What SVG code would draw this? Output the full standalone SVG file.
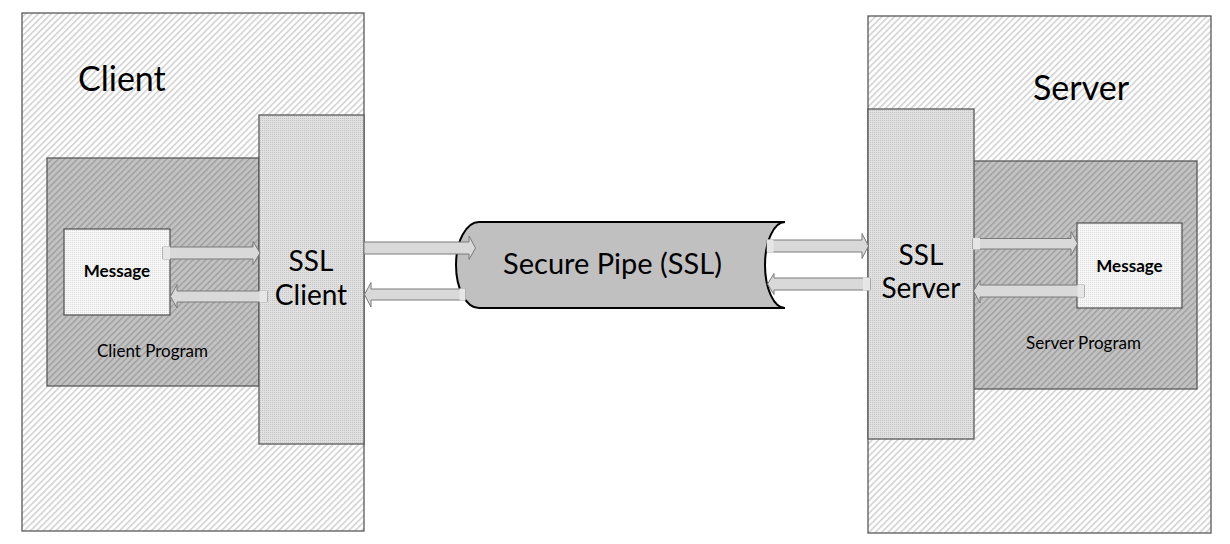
<svg xmlns="http://www.w3.org/2000/svg" width="1230" height="544" viewBox="0 0 1230 544">
<style>
text{font-family:Lato,"Liberation Sans",Arial,sans-serif;fill:#000}
.box{stroke:#595959;stroke-width:1.3}
.outer{fill:url(#hatchLight)}
.prog{fill:url(#hatchDark)}
.ssl{fill:url(#dotsMid)}
.msg{fill:url(#dotsLight)}
.arr{fill:#d9d9d9;stroke:#7a7a7a;stroke-width:1}
.stub{fill:#e6e6e6;stroke:none}
.title{font-size:34px}
.mid{font-size:28px;text-anchor:middle}
.small{font-size:17px;text-anchor:middle}
.bold{font-size:17px;font-weight:bold;text-anchor:middle}
</style>
<defs>
<pattern id="hatchLight" patternUnits="userSpaceOnUse" width="4.5" height="4.5" patternTransform="rotate(45)">
<rect width="4.5" height="4.5" fill="#ffffff"/>
<rect width="1.6" height="4.5" fill="#d2d2d2"/>
</pattern>
<pattern id="hatchDark" patternUnits="userSpaceOnUse" width="4.5" height="4.5" patternTransform="rotate(45)">
<rect width="4.5" height="4.5" fill="#c2c2c2"/>
<rect width="1.4" height="4.5" fill="#9e9e9e"/>
</pattern>
<pattern id="dotsMid" patternUnits="userSpaceOnUse" width="2" height="2">
<rect width="2" height="2" fill="#e0e0e0"/>
<rect width="1" height="1" fill="#c6c6c6"/>
</pattern>
<pattern id="dotsLight" patternUnits="userSpaceOnUse" width="2" height="2">
<rect width="2" height="2" fill="#f6f6f6"/>
<rect width="1" height="1" fill="#dedede"/>
</pattern>
</defs>
<rect width="1230" height="544" fill="#ffffff"/>

<g id="client">
<rect class="box outer" x="22" y="13" width="342" height="518"/>
<text class="title" x="78" y="91">Client</text>
</g>
<g id="client-program">
<rect class="box prog" x="47" y="158" width="212" height="228"/>
<text class="small" x="152.5" y="357">Client Program</text>
</g>
<g id="client-message">
<rect class="box msg" x="64" y="229" width="106" height="86"/>
<text class="bold" x="117" y="277">Message</text>
</g>
<g id="ssl-client">
<rect class="box ssl" x="259" y="115" width="105" height="329"/>
<text class="mid" x="311" y="271">SSL</text>
<text class="mid" x="311" y="305">Client</text>
</g>

<g id="server">
<rect class="box outer" x="868" y="16" width="343" height="517"/>
<text class="title" x="1033" y="100">Server</text>
</g>
<g id="server-program">
<rect class="box prog" x="960" y="161" width="237" height="228"/>
<text class="small" x="1083.5" y="349">Server Program</text>
</g>
<g id="ssl-server">
<rect class="box ssl" x="868" y="109" width="106" height="330"/>
<text class="mid" x="921" y="265">SSL</text>
<text class="mid" x="921" y="298">Server</text>
</g>
<g id="server-message">
<rect class="box msg" x="1077" y="223" width="105" height="85"/>
<text class="bold" x="1129.5" y="272">Message</text>
</g>

<g id="secure-pipe">
<path d="M479,222 L785,222 A20,43 0 0 0 785,308 L479,308 A23,43 0 0 1 479,222 Z" fill="#c0c0c0" stroke="#000" stroke-width="2"/>
<text x="612.5" y="274" font-size="29" text-anchor="middle">Secure Pipe (SSL)</text>
</g>

<g id="connectors">
<polygon class="arr" points="163,247 253,247 253,241.5 260,253 253,264.5 253,259 163,259"/>
<rect class="stub" x="163" y="246.5" width="7" height="13"/>
<polygon class="arr" points="267,291 177,291 177,284.5 170.5,296.5 177,308 177,302 267,302"/>
<rect class="stub" x="259.5" y="290.5" width="7.5" height="12"/>
<polygon class="arr" points="364,242 469,242 469,236 475.5,248 469,259.5 469,254 364,254"/>
<polygon class="arr" points="465.5,289 371,289 371,282.5 364.5,294.5 371,307 371,300 465.5,300"/>
<rect class="stub" x="459.5" y="288.5" width="6" height="12"/>
<polygon class="arr" points="767,240 862,240 862,233.5 868.5,246 862,258.5 862,252 767,252"/>
<rect class="stub" x="767" y="239.5" width="6.5" height="13"/>
<polygon class="arr" points="870,278 774,278 774,273.5 767.5,284 774,294.5 774,290 870,290"/>
<rect class="stub" x="863" y="277.5" width="7" height="13"/>
<polygon class="arr" points="973,238.5 1071,238.5 1071,231.5 1077.5,243.5 1071,255.5 1071,249 973,249"/>
<rect class="stub" x="973" y="238" width="7" height="11.5"/>
<polygon class="arr" points="1084,285 980,285 980,280.5 973.5,291 980,303 980,297 1084,297"/>
<rect class="stub" x="1077.5" y="284.5" width="6.5" height="13"/>
</g>
</svg>
